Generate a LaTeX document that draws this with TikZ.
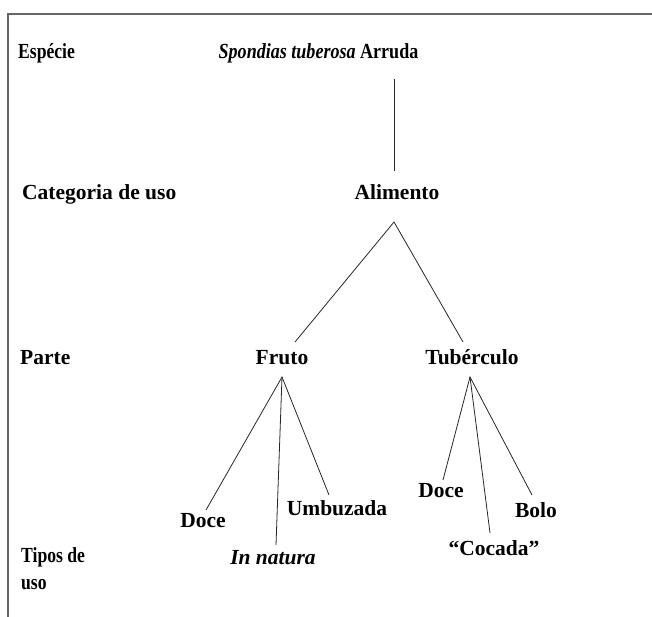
\documentclass[tikz,border=0pt]{standalone}
\usepackage{fontspec}
\setmainfont{Liberation Serif}
\usetikzlibrary{calc}
\begin{document}
\begin{tikzpicture}[x=1pt,y=-1pt,
  lbl/.style={font=\fontsize{21.5}{27}\selectfont\bfseries, inner sep=0pt, text height=14pt, text depth=0pt},
  narrow/.style={xscale=0.82, transform shape},
  conn/.style={draw=black!85, line width=0.8pt},
  frame/.style={draw=black!60, line width=1.5pt}]
\useasboundingbox (0,0) rectangle (652,617);
\coordinate (ftr) at (652,14);
\coordinate (fc) at (8,14);
\coordinate (fbl) at (8,617);
\draw[frame] (ftr) -- (fc) -- (fbl);

% row labels
\node[lbl, narrow, anchor=west] (esp) at (18,52) {Espécie};
\node[lbl, anchor=west] (cat) at (22,193) {Categoria de uso};
\node[lbl, anchor=west] (par) at (20,357) {Parte};
\node[font=\fontsize{21.5}{27}\selectfont\bfseries, inner sep=0pt, align=left, anchor=north west, xscale=0.82, transform shape] (tip) at (21,547) {Tipos de\\uso};

% tree
\node[lbl, xscale=0.84, transform shape] (sp) at (318.5,52) {\textit{Spondias tuberosa} Arruda};
\node[lbl] (alim) at (397,193) {Alimento};
\node[lbl] (fruto) at (282,357) {Fruto};
\node[lbl] (tub) at (472,357) {Tubérculo};
\node[lbl] (doce1) at (203,520) {Doce};
\node[lbl] (innat) at (273,557) {\itshape In natura};
\node[lbl] (umb) at (337,508) {Umbuzada};
\node[lbl] (doce2) at (441,490) {Doce};
\node[lbl] (coc) at (494,548) {“Cocada”};
\node[lbl] (bolo) at (536,510) {Bolo};

\draw[conn] ($(alim)+(-3,-114)$) -- ($(alim)+(-3,-22)$);
\draw[conn] ($(fruto)+(13,-15)$) -- ($(alim)+(-3,29)$) -- ($(tub)+(-9,-15)$);
\draw[conn] ($(doce1)+(3,-10)$) -- ($(fruto)+(0,20)$) -- ($(umb)+(-8,-13)$);
\draw[conn] ($(fruto)+(0,20)$) -- ($(innat)+(3,-12)$);
\draw[conn] ($(doce2)+(2,-10)$) -- ($(tub)+(-2,20)$) -- ($(bolo)+(-4,-15)$);
\draw[conn] ($(tub)+(-2,20)$) -- ($(coc)+(-4,-15)$);
\end{tikzpicture}
\end{document}
